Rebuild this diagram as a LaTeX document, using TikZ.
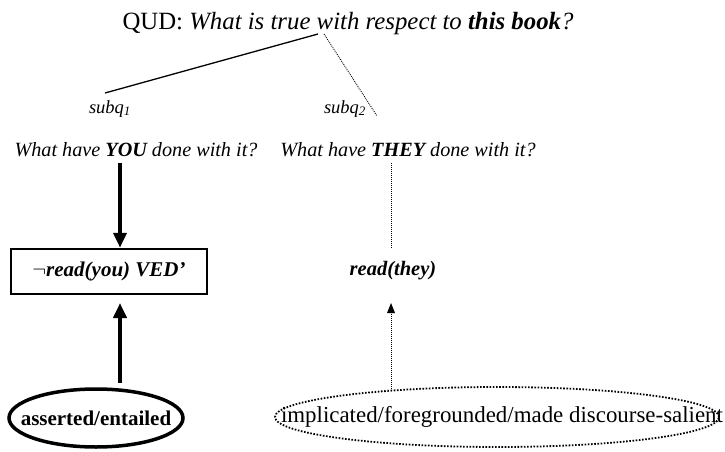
\documentclass[tikz,border=0pt]{standalone}
\usepackage{fontspec}
\setmainfont{Liberation Serif}
\usetikzlibrary{arrows.meta}
\begin{document}
\begin{tikzpicture}[x=1pt,y=1pt,
  txt/.style={inner sep=0pt,anchor=base},
  heavy/.style={line width=4pt,-{Triangle[width=13pt,length=15pt]}},
  fine dots/.style={line width=0.9pt,dash pattern=on 0.9pt off 1.1pt},
  dotarrow/.style={fine dots,-{Triangle[width=8pt,length=10pt,line width=0pt]}},
]
\useasboundingbox (0,0) rectangle (725,-452);

% question under discussion and its two subquestions
\node[txt,font=\fontsize{24.8}{27}\selectfont] (qud) at (348,-30)
  {QUD: \textit{What is true with respect to \textbf{this book}?}};
\node[txt,font=\fontsize{18.5}{20}\selectfont\itshape] (s1) at (110,-113) {subq\textsubscript{1}};
\node[txt,font=\fontsize{18.5}{20}\selectfont\itshape] (s2) at (345,-113) {subq\textsubscript{2}};
\node[txt,font=\fontsize{20.2}{23}\selectfont\itshape] (q1) at (136,-156)
  {What have \textbf{YOU} done with it?};
\node[txt,font=\fontsize{20.2}{23}\selectfont\itshape] (q2) at (408,-156)
  {What have \textbf{THEY} done with it?};

% answers
\node[draw,line width=2.5pt,minimum width=196pt,minimum height=45pt,inner sep=0pt,
  font=\fontsize{21}{24}\selectfont\bfseries\itshape] (box) at (109,-271.5)
  {$\neg$read(you) VED’};
\node[txt,font=\fontsize{20.5}{23}\selectfont\bfseries\itshape] (rt) at (393,-275) {read(they)};

% status labels with their ellipses
\node[inner sep=0pt,font=\fontsize{21}{24}\selectfont\bfseries] (asr) at (96,-418) {asserted/entailed};
\draw[line width=3.5pt] (asr) ellipse [x radius=87, y radius=29];
\node[inner sep=0pt,font=\fontsize{22.9}{25}\selectfont] (imp) at (502,-417)
  {implicated/foregrounded/made discourse-salient};
\draw[line width=1.8pt,dash pattern=on 1.6pt off 1.6pt]
  (497,-417) ellipse [x radius=222, y radius=30];

% tree branches
\coordinate (qa) at (318,-34);
\coordinate (qb) at (324,-34);
\coordinate (b1) at (105,-93);
\coordinate (b2) at (377,-116);
\draw[line width=1.3pt] (qa) -- (b1);
\draw[fine dots] (qb) -- (b2);

% links from questions down to answers
\coordinate (l1) at (120,-163);
\coordinate (l2) at (391,-163);
\coordinate (l2e) at (391,-248);
\draw[heavy] (l1) -- (l1 |- box.north);
\draw[fine dots] (l2) -- (l2e);

% links from status up to answers
\coordinate (u1) at (120,-383);
\coordinate (u1t) at (120,-303);
\coordinate (u2) at (391,-389);
\coordinate (u2t) at (391,-303);
\draw[heavy] (u1) -- (u1t);
\draw[dotarrow] (u2) -- (u2t);
\end{tikzpicture}
\end{document}
